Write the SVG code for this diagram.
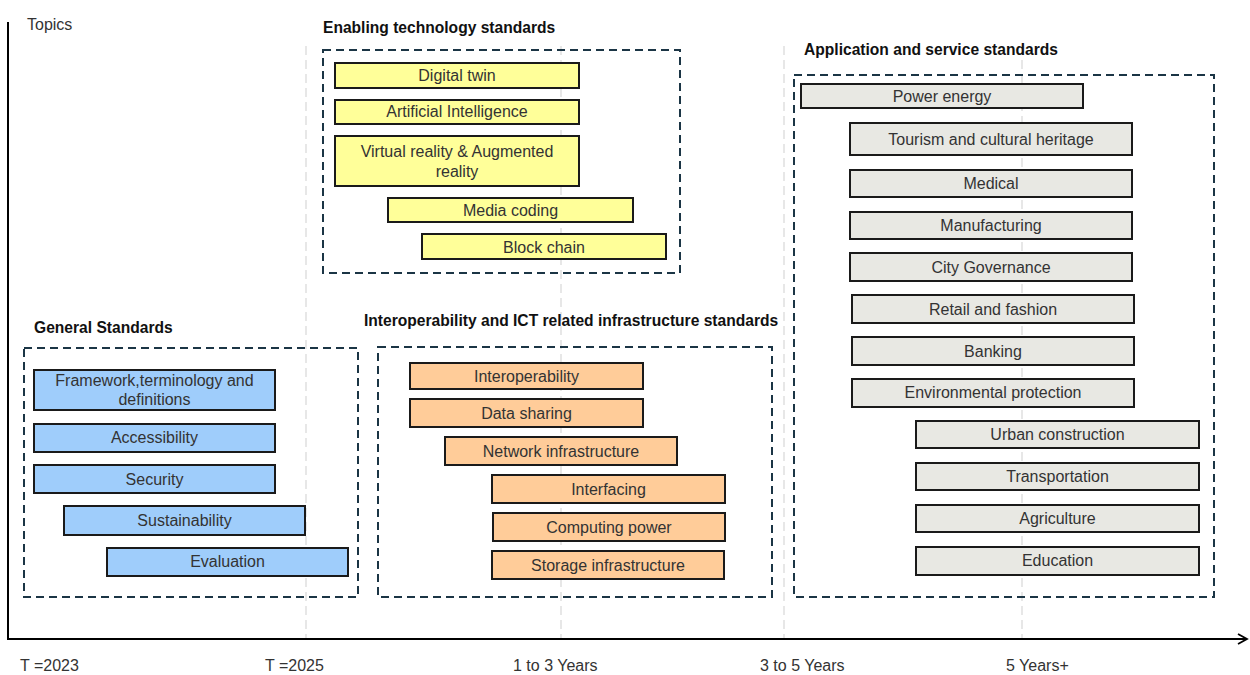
<svg xmlns="http://www.w3.org/2000/svg" width="1250" height="675" viewBox="0 0 1250 675">
<defs>
<marker id="arr" viewBox="0 0 12 12" refX="10" refY="6" markerWidth="12" markerHeight="12" markerUnits="userSpaceOnUse" orient="auto">
<path d="M1,1 L10,6 L1,11" fill="none" stroke="#000" stroke-width="1.8"/>
</marker>
<style>
text{font-family:"Liberation Sans",Arial,sans-serif;fill:#333;}
.lbl{font-size:16px;text-anchor:middle;}
.ttl{font-size:15.6px;font-weight:bold;fill:#111;}
.ax{font-size:16px;}
.grp{fill:none;stroke:#1b3545;stroke-width:2;stroke-dasharray:8,5;}
.grid{stroke:#e2e2e2;stroke-width:1.6;stroke-dasharray:9,5;fill:none;}
.b{fill:#9fcdfb;stroke:#1a1a1a;stroke-width:2;}
.y{fill:#ffff99;stroke:#1a1a1a;stroke-width:2;}
.o{fill:#ffcc99;stroke:#1a1a1a;stroke-width:2;}
.g{fill:#e8e8e3;stroke:#1a1a1a;stroke-width:2;}
</style>
</defs>
<rect width="1250" height="675" fill="#fff"/>

<g id="gridlines">
<line class="grid" x1="306" y1="46" x2="306" y2="638"/>
<line class="grid" x1="561" y1="46" x2="561" y2="638"/>
<line class="grid" x1="784" y1="46" x2="784" y2="638"/>
<line class="grid" x1="1022" y1="46" x2="1022" y2="638"/>
</g>

<g id="axes">
<line x1="8" y1="22" x2="8" y2="640" stroke="#000" stroke-width="2"/>
<line x1="7" y1="639" x2="1247" y2="639" stroke="#000" stroke-width="2" marker-end="url(#arr)"/>
<text class="ax" x="27" y="30">Topics</text>
<text class="ax" x="20" y="671">T =2023</text>
<text class="ax" x="265" y="671">T =2025</text>
<text class="ax" x="513" y="671">1 to 3 Years</text>
<text class="ax" x="760" y="671">3 to 5 Years</text>
<text class="ax" x="1006" y="671">5 Years+</text>
</g>

<g id="general">
<text class="ttl" x="34" y="333">General Standards</text>
<rect class="grp" x="24" y="348" width="334" height="249"/>
<g id="n-framework"><rect class="b" x="34" y="370" width="241" height="40"/><text class="lbl" x="154.5" y="386">Framework,terminology and</text><text class="lbl" x="154.5" y="405">definitions</text></g>
<g id="n-accessibility"><rect class="b" x="34" y="424" width="241" height="28"/><text class="lbl" x="154.5" y="443">Accessibility</text></g>
<g id="n-security"><rect class="b" x="34" y="465" width="241" height="28"/><text class="lbl" x="154.5" y="485">Security</text></g>
<g id="n-sustainability"><rect class="b" x="64" y="506" width="241" height="29"/><text class="lbl" x="184.5" y="526">Sustainability</text></g>
<g id="n-evaluation"><rect class="b" x="107" y="548" width="241" height="28"/><text class="lbl" x="227.5" y="567">Evaluation</text></g>
</g>

<g id="enabling">
<text class="ttl" x="323" y="33">Enabling technology standards</text>
<rect class="grp" x="323" y="50" width="357" height="223"/>
<g id="n-digitaltwin"><rect class="y" x="335" y="63" width="244" height="25"/><text class="lbl" x="457" y="81">Digital twin</text></g>
<g id="n-ai"><rect class="y" x="335" y="100" width="244" height="24"/><text class="lbl" x="457" y="117">Artificial Intelligence</text></g>
<g id="n-vr"><rect class="y" x="335" y="136" width="244" height="50"/><text class="lbl" x="457" y="157">Virtual reality &amp; Augmented</text><text class="lbl" x="457" y="177">reality</text></g>
<g id="n-media"><rect class="y" x="388" y="198" width="245" height="24"/><text class="lbl" x="510.5" y="216">Media coding</text></g>
<g id="n-blockchain"><rect class="y" x="422" y="234" width="244" height="25"/><text class="lbl" x="544" y="253">Block chain</text></g>
</g>

<g id="interop">
<text class="ttl" x="364" y="326">Interoperability and ICT related infrastructure standards</text>
<rect class="grp" x="378" y="347" width="394" height="250"/>
<g id="n-interoperability"><rect class="o" x="410" y="363" width="233" height="26"/><text class="lbl" x="526.5" y="382">Interoperability</text></g>
<g id="n-datasharing"><rect class="o" x="410" y="399" width="233" height="28"/><text class="lbl" x="526.5" y="419">Data sharing</text></g>
<g id="n-network"><rect class="o" x="445" y="437" width="232" height="28"/><text class="lbl" x="561" y="457">Network infrastructure</text></g>
<g id="n-interfacing"><rect class="o" x="492" y="475" width="233" height="28"/><text class="lbl" x="608.5" y="495">Interfacing</text></g>
<g id="n-computing"><rect class="o" x="493" y="513" width="232" height="28"/><text class="lbl" x="609" y="533">Computing power</text></g>
<g id="n-storage"><rect class="o" x="492" y="551" width="232" height="28"/><text class="lbl" x="608" y="571">Storage infrastructure</text></g>
</g>

<g id="application">
<text class="ttl" x="804" y="55">Application and service standards</text>
<rect class="grp" x="794" y="75" width="420" height="522"/>
<g id="n-power"><rect class="g" x="801" y="84" width="282" height="24"/><text class="lbl" x="942" y="102">Power energy</text></g>
<g id="n-tourism"><rect class="g" x="850" y="123" width="282" height="32"/><text class="lbl" x="991" y="145">Tourism and cultural heritage</text></g>
<g id="n-medical"><rect class="g" x="850" y="170" width="282" height="27"/><text class="lbl" x="991" y="189">Medical</text></g>
<g id="n-manufacturing"><rect class="g" x="850" y="212" width="282" height="27"/><text class="lbl" x="991" y="231">Manufacturing</text></g>
<g id="n-city"><rect class="g" x="850" y="253" width="282" height="28"/><text class="lbl" x="991" y="273">City Governance</text></g>
<g id="n-retail"><rect class="g" x="852" y="295" width="282" height="28"/><text class="lbl" x="993" y="315">Retail and fashion</text></g>
<g id="n-banking"><rect class="g" x="852" y="337" width="282" height="28"/><text class="lbl" x="993" y="357">Banking</text></g>
<g id="n-environmental"><rect class="g" x="852" y="379" width="282" height="28"/><text class="lbl" x="993" y="398">Environmental protection</text></g>
<g id="n-urban"><rect class="g" x="916" y="421" width="283" height="27"/><text class="lbl" x="1057.5" y="440">Urban construction</text></g>
<g id="n-transportation"><rect class="g" x="916" y="463" width="283" height="27"/><text class="lbl" x="1057.5" y="482">Transportation</text></g>
<g id="n-agriculture"><rect class="g" x="916" y="505" width="283" height="27"/><text class="lbl" x="1057.5" y="524">Agriculture</text></g>
<g id="n-education"><rect class="g" x="916" y="547" width="283" height="28"/><text class="lbl" x="1057.5" y="566">Education</text></g>
</g>
</svg>
